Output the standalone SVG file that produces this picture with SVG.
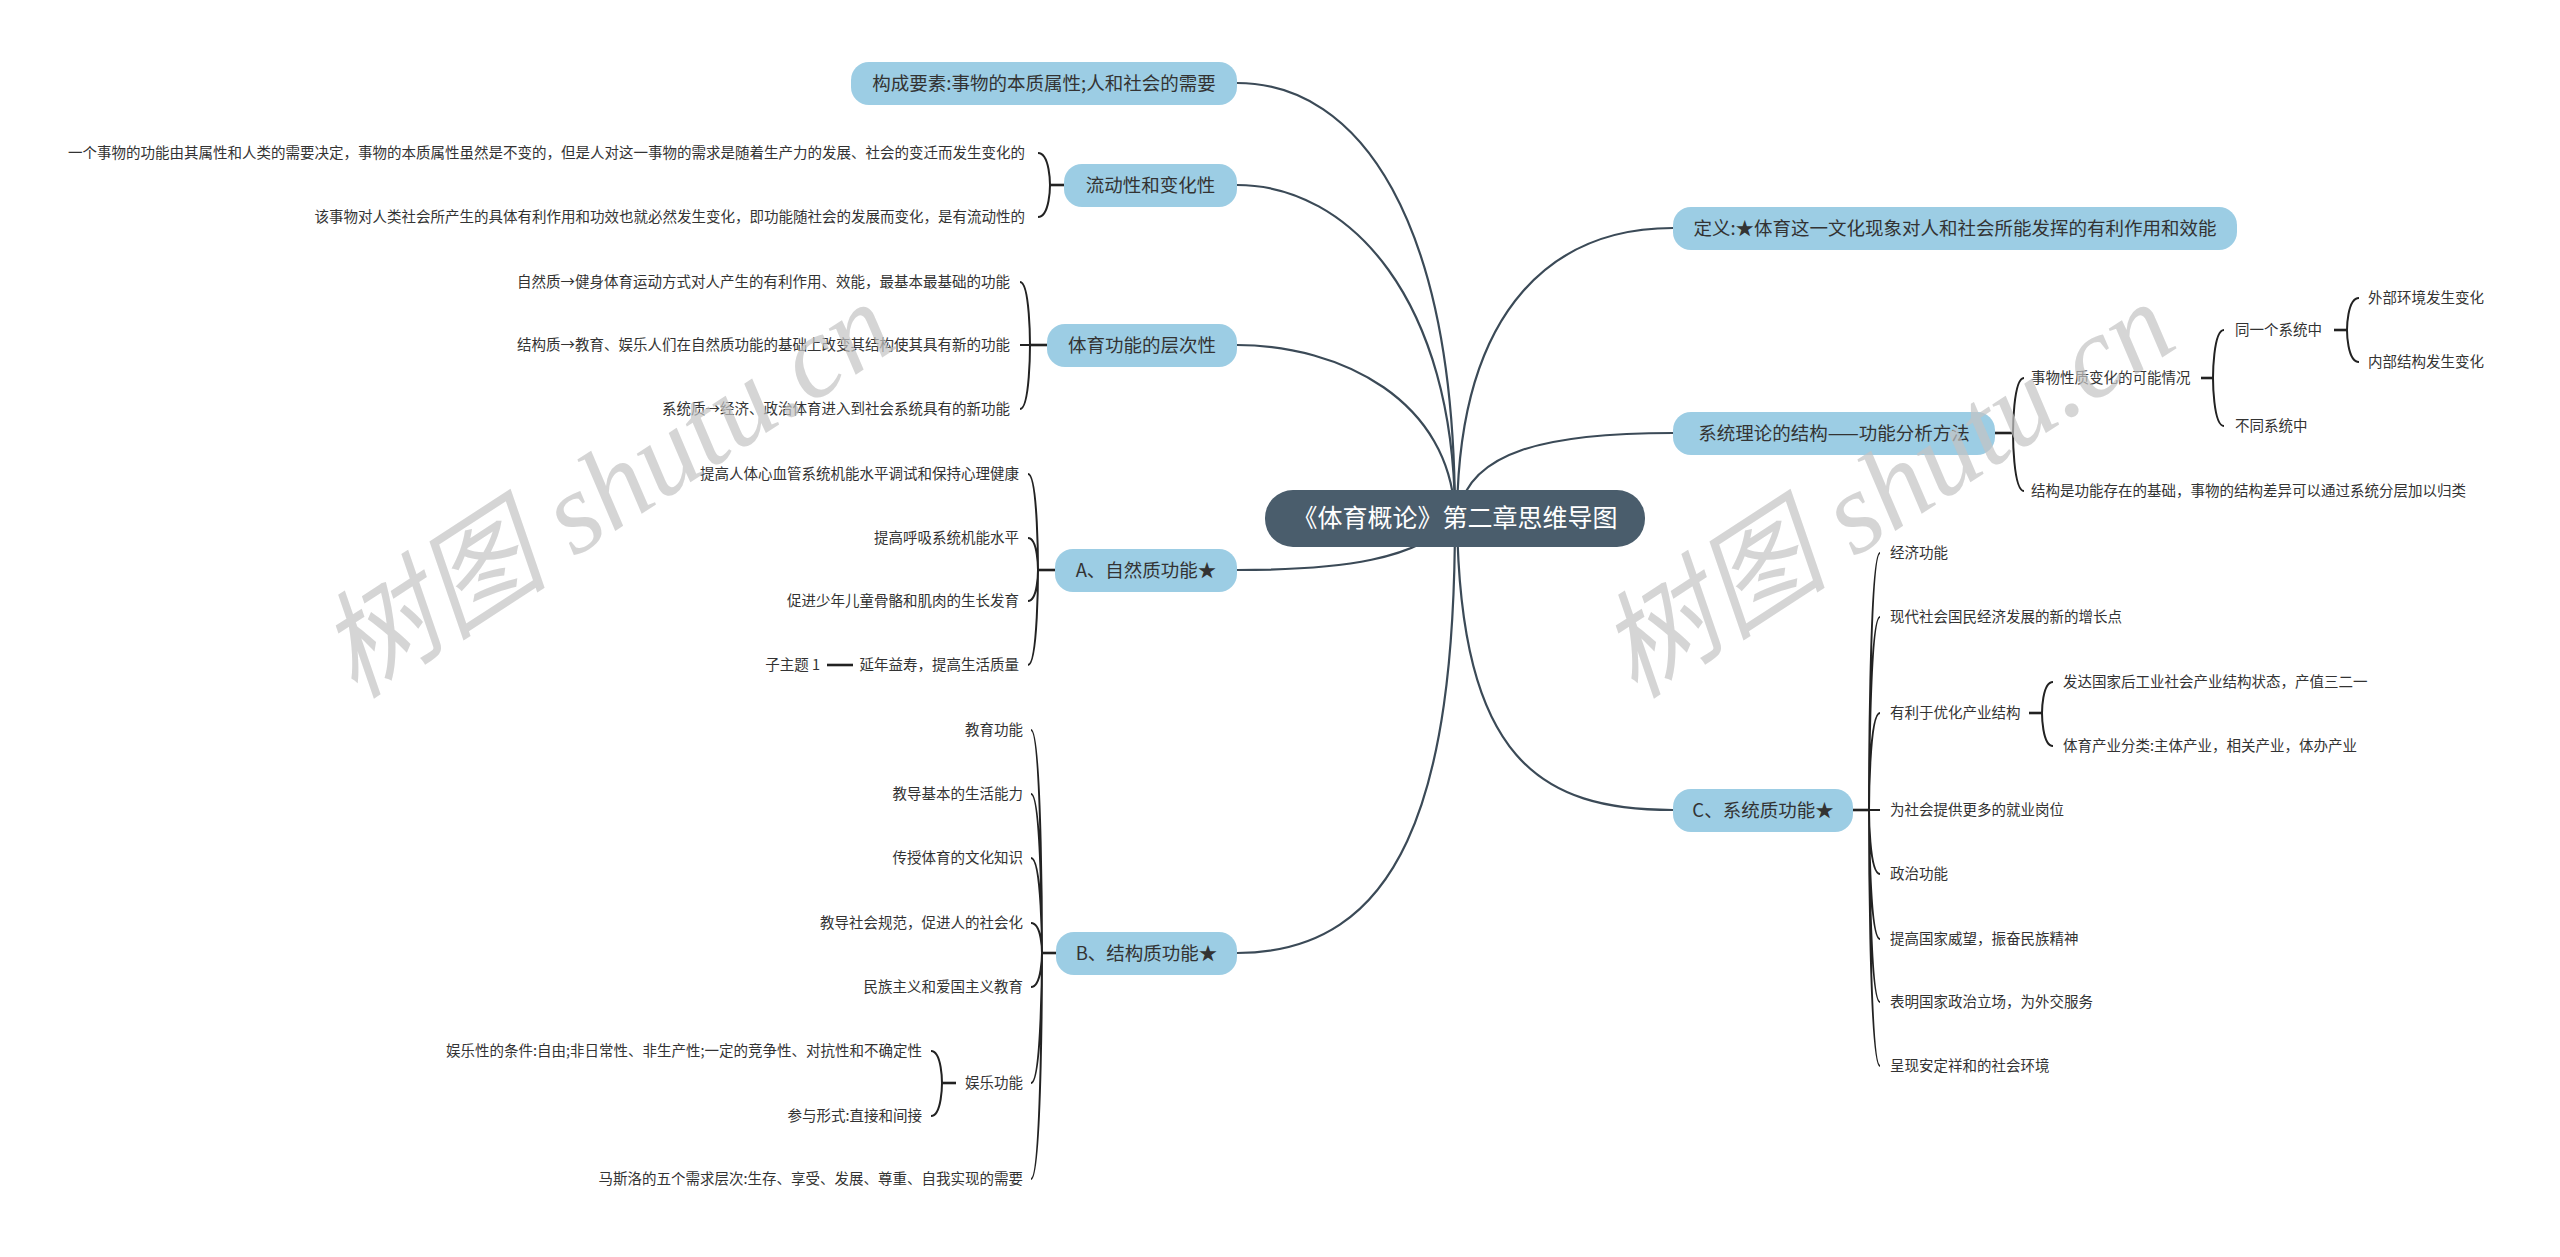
<svg xmlns="http://www.w3.org/2000/svg" width="2560" height="1257" viewBox="0 0 2560 1257">
<style>
.edge{fill:none;stroke:#3b4a57;stroke-width:2.2}
.br{fill:none;stroke:#222;stroke-width:2}
.stub{fill:none;stroke:#222;stroke-width:2.6}
.node rect{fill:#9ccde4}
.nt{font-family:"Noto Sans CJK SC","Liberation Sans",sans-serif;font-size:18.5px;fill:#333;text-anchor:middle}
.lt{font-family:"Noto Sans CJK SC","Liberation Sans",sans-serif;font-size:14.5px;fill:#333}
.l{text-anchor:end}
.wm{font-family:"Liberation Serif","Noto Sans CJK SC",serif;font-style:italic;font-size:116px;fill:#c4c4c4;opacity:0.7}
</style>
<rect width="2560" height="1257" fill="#ffffff"/>
<g id="connectors">
<path class="edge" d="M1237,83 C1360,83 1455,220 1455,518"/>
<path class="edge" d="M1237,185 C1350,185 1455,300 1455,518"/>
<path class="edge" d="M1237,345 C1340,345 1452,400 1455,518"/>
<path class="edge" d="M1237,570 C1340,570 1420,560 1455,518"/>
<path class="edge" d="M1237,953 C1400,953 1455,800 1455,518"/>
<path class="edge" d="M1673,228 C1560,228 1458,300 1457,518"/>
<path class="edge" d="M1673,433 C1550,433 1465,450 1458,518"/>
<path class="edge" d="M1673,810 C1540,810 1460,760 1457,518"/>
<path class="stub" d="M1064,185 L1050,185"/>
<path class="br" d="M1050,185 C1050,185 1050,153 1038,153 M1050,185 C1050,185 1050,217 1038,217"/>
<path class="stub" d="M1047,345 L1030,345"/>
<path class="br" d="M1030,345 C1030,345 1030,282 1020,282 M1030,345 L1020,345 M1030,345 C1030,345 1030,409 1020,409"/>
<path class="stub" d="M1055,570 L1038,570"/>
<path class="br" d="M1038,570 C1038,570 1038,474 1028,474 M1038,570 C1038,570 1038,538 1028,538 M1038,570 C1038,570 1038,601 1028,601 M1038,570 C1038,570 1038,665 1028,665"/>
<path class="stub" d="M827,665 L853,665"/>
<path class="stub" d="M1056,953 L1042,953"/>
<path class="br" d="M1042,953 C1042,953 1042,730 1031,730 M1042,953 C1042,953 1042,794 1031,794 M1042,953 C1042,953 1042,858 1031,858 M1042,953 C1042,953 1042,923 1031,923 M1042,953 C1042,953 1042,987 1031,987 M1042,953 C1042,953 1042,1083 1031,1083 M1042,953 C1042,953 1042,1179 1031,1179"/>
<path class="stub" d="M956,1083 L942,1083"/>
<path class="br" d="M942,1083 C942,1083 942,1051 931,1051 M942,1083 C942,1083 942,1116 931,1116"/>
<path class="stub" d="M1995,433 L2013,433"/>
<path class="br" d="M2013,433 C2013,433 2013,378 2024,378 M2013,433 C2013,433 2013,491 2024,491"/>
<path class="stub" d="M2201,378 L2213,378"/>
<path class="br" d="M2213,378 C2213,378 2213,330 2224,330 M2213,378 C2213,378 2213,426 2224,426"/>
<path class="stub" d="M2334,330 L2347,330"/>
<path class="br" d="M2347,330 C2347,330 2347,298 2359,298 M2347,330 C2347,330 2347,362 2359,362"/>
<path class="stub" d="M1853,810 L1869,810"/>
<path class="br" d="M1869,810 C1869,810 1869,553 1880,553 M1869,810 C1869,810 1869,617 1880,617 M1869,810 C1869,810 1869,713 1880,713 M1869,810 L1880,810 M1869,810 C1869,810 1869,874 1880,874 M1869,810 C1869,810 1869,939 1880,939 M1869,810 C1869,810 1869,1002 1880,1002 M1869,810 C1869,810 1869,1066 1880,1066"/>
<path class="stub" d="M2029,713 L2042,713"/>
<path class="br" d="M2042,713 C2042,713 2042,682 2053,682 M2042,713 C2042,713 2042,746 2053,746"/>
</g>
<g id="root">
<rect x="1265" y="490" width="380" height="57" rx="28" fill="#4a5d6c"/>
<text x="1455" y="527" font-family="Noto Sans CJK SC,Liberation Sans,sans-serif" font-size="25" fill="#ffffff" text-anchor="middle">《体育概论》第二章思维导图</text>
</g>
<g id="n-gouchen" class="node"><rect x="851" y="62" width="386" height="43" rx="18"/><text class="nt" x="1044" y="90">构成要素:事物的本质属性;人和社会的需要</text></g>
<g id="n-liudong" class="node"><rect x="1064" y="164" width="173" height="43" rx="18"/><text class="nt" x="1150.5" y="192">流动性和变化性</text></g>
<g id="n-cengci" class="node"><rect x="1047" y="324" width="190" height="43" rx="18"/><text class="nt" x="1142" y="352">体育功能的层次性</text></g>
<g id="n-a" class="node"><rect x="1055" y="549" width="182" height="43" rx="18"/><text class="nt" x="1146" y="577">A、自然质功能★</text></g>
<g id="n-b" class="node"><rect x="1056" y="932" width="181" height="43" rx="18"/><text class="nt" x="1146.5" y="960">B、结构质功能★</text></g>
<g id="n-dingyi" class="node"><rect x="1673" y="207" width="564" height="43" rx="18"/><text class="nt" x="1955" y="235">定义:★体育这一文化现象对人和社会所能发挥的有利作用和效能</text></g>
<g id="n-xitong" class="node"><rect x="1673" y="412" width="322" height="43" rx="18"/><text class="nt" x="1834" y="440">系统理论的结构——功能分析方法</text></g>
<g id="n-c" class="node"><rect x="1673" y="789" width="180" height="43" rx="18"/><text class="nt" x="1763" y="817">C、系统质功能★</text></g>
<g id="leaves-left">
<text class="lt l" x="1025" y="158">一个事物的功能由其属性和人类的需要决定，事物的本质属性虽然是不变的，但是人对这一事物的需求是随着生产力的发展、社会的变迁而发生变化的</text>
<text class="lt l" x="1025" y="222">该事物对人类社会所产生的具体有利作用和功效也就必然发生变化，即功能随社会的发展而变化，是有流动性的</text>
<text class="lt l" x="1010" y="287">自然质→健身体育运动方式对人产生的有利作用、效能，最基本最基础的功能</text>
<text class="lt l" x="1010" y="350">结构质→教育、娱乐人们在自然质功能的基础上改变其结构使其具有新的功能</text>
<text class="lt l" x="1010" y="414">系统质→经济、政治体育进入到社会系统具有的新功能</text>
<text class="lt l" x="1019" y="479">提高人体心血管系统机能水平调试和保持心理健康</text>
<text class="lt l" x="1019" y="543">提高呼吸系统机能水平</text>
<text class="lt l" x="1019" y="606">促进少年儿童骨骼和肌肉的生长发育</text>
<text class="lt l" x="1019" y="670">延年益寿，提高生活质量</text>
<text class="lt l" x="820" y="670">子主题 1</text>
<text class="lt l" x="1023" y="735">教育功能</text>
<text class="lt l" x="1023" y="799">教导基本的生活能力</text>
<text class="lt l" x="1023" y="863">传授体育的文化知识</text>
<text class="lt l" x="1023" y="928">教导社会规范，促进人的社会化</text>
<text class="lt l" x="1023" y="992">民族主义和爱国主义教育</text>
<text class="lt l" x="1023" y="1088">娱乐功能</text>
<text class="lt l" x="922" y="1056">娱乐性的条件:自由;非日常性、非生产性;一定的竞争性、对抗性和不确定性</text>
<text class="lt l" x="922" y="1121">参与形式:直接和间接</text>
<text class="lt l" x="1023" y="1184">马斯洛的五个需求层次:生存、享受、发展、尊重、自我实现的需要</text>
</g>
<g id="leaves-right">
<text class="lt" x="2031" y="383">事物性质变化的可能情况</text>
<text class="lt" x="2031" y="496">结构是功能存在的基础，事物的结构差异可以通过系统分层加以归类</text>
<text class="lt" x="2235" y="335">同一个系统中</text>
<text class="lt" x="2235" y="431">不同系统中</text>
<text class="lt" x="2368" y="303">外部环境发生变化</text>
<text class="lt" x="2368" y="367">内部结构发生变化</text>
<text class="lt" x="1890" y="558">经济功能</text>
<text class="lt" x="1890" y="622">现代社会国民经济发展的新的增长点</text>
<text class="lt" x="1890" y="718">有利于优化产业结构</text>
<text class="lt" x="2063" y="687">发达国家后工业社会产业结构状态，产值三二一</text>
<text class="lt" x="2063" y="751">体育产业分类:主体产业，相关产业，体办产业</text>
<text class="lt" x="1890" y="815">为社会提供更多的就业岗位</text>
<text class="lt" x="1890" y="879">政治功能</text>
<text class="lt" x="1890" y="944">提高国家威望，振奋民族精神</text>
<text class="lt" x="1890" y="1007">表明国家政治立场，为外交服务</text>
<text class="lt" x="1890" y="1071">呈现安定祥和的社会环境</text>
</g>
<g id="watermark">
<text class="wm" x="355" y="700" transform="rotate(-33 355 700)">树图 shutu.cn</text>
<text class="wm" x="1635" y="700" transform="rotate(-33 1635 700)">树图 shutu.cn</text>
</g>
</svg>
